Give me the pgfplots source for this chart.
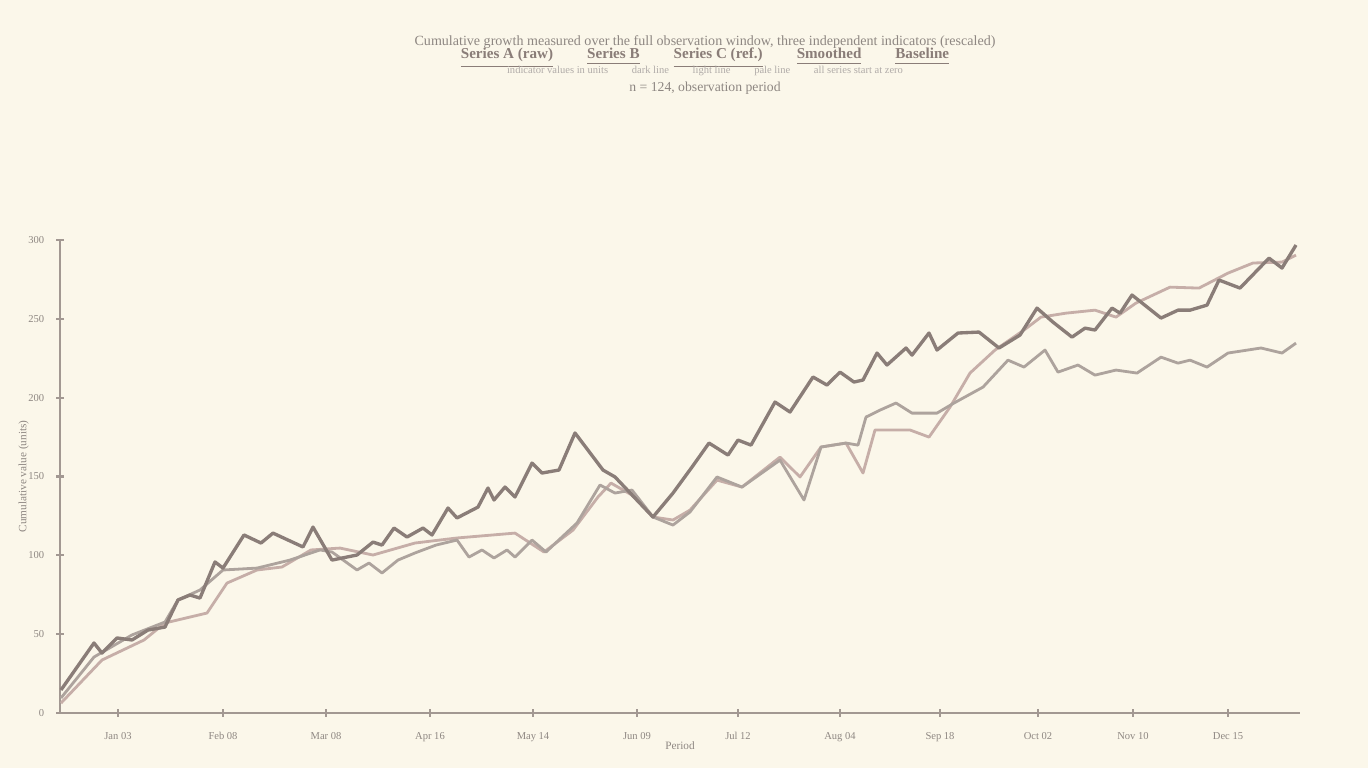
\documentclass[border=0pt]{standalone}
\usepackage{fontspec}
\setmainfont{Liberation Serif}
\usepackage{pgfplots}
\pgfplotsset{compat=1.18}

\definecolor{bg}{HTML}{FBF7EA}
\definecolor{axisgray}{HTML}{A29892}
\definecolor{textgray}{HTML}{8E8782}
\definecolor{darkline}{HTML}{8A7D78}
\definecolor{pinkline}{HTML}{C6AEA8}
\definecolor{grayline}{HTML}{ADA39D}

% series (x = period index, y = value)
\pgfplotstableread{
x y
0.1 14.6
3.4 44.4
4.2 38.0
5.7 47.6
7.2 46.3
8.8 52.6
10.5 54.5
11.8 71.7
13.0 74.8
14.0 72.9
15.5 95.8
16.3 91.9
18.4 112.9
20.1 107.8
21.3 114.1
24.3 105.3
25.3 117.9
27.2 97.0
29.7 100.2
31.3 108.4
32.2 106.5
33.4 117.3
34.7 111.6
36.3 117.3
37.2 112.9
38.8 130.0
39.7 123.7
41.8 130.6
42.8 142.7
43.4 135.1
44.5 143.3
45.5 137.0
47.2 158.5
48.2 152.2
49.9 154.1
51.5 177.6
54.3 154.1
55.5 149.7
59.3 124.3
61.3 139.5
63.2 156.0
64.9 171.2
66.8 163.6
67.8 173.1
69.1 169.9
71.5 197.2
73.0 190.9
75.3 213.1
76.7 208.0
78.0 216.2
79.4 209.9
80.3 211.2
81.7 228.3
82.7 220.7
84.6 231.5
85.2 227.0
86.9 241.0
87.7 230.2
89.8 241.0
91.9 241.6
93.9 231.5
96.0 239.7
97.7 256.8
99.3 247.9
101.2 238.4
102.5 244.1
103.5 242.9
105.2 256.8
106.0 253.6
107.2 265.1
110.1 250.5
111.8 255.5
113.0 255.5
114.7 258.7
115.9 274.6
118.0 269.5
120.9 288.5
122.2 282.2
123.6 296.8
}\seriesA

\pgfplotstableread{
x y
0.1 6.3
4.2 33.6
8.4 46.3
10.5 57.1
14.7 63.4
16.7 82.4
19.7 90.7
22.2 92.6
25.1 103.4
28.0 104.6
31.3 100.2
35.5 107.8
39.7 111.0
45.5 114.1
48.4 102.1
51.3 116.0
53.8 137.0
55.1 145.8
57.2 138.2
59.3 124.3
61.3 122.4
63.0 128.7
65.7 147.7
68.2 143.3
72.0 162.3
74.0 149.7
76.1 168.7
78.6 171.2
80.3 152.2
81.5 179.5
85.0 179.5
86.9 175.0
89.0 194.0
91.0 215.6
93.5 230.2
96.4 242.9
98.1 251.1
100.6 253.6
103.5 255.5
105.6 251.1
107.6 260.0
111.0 270.1
113.9 269.5
116.8 279.0
119.3 285.4
122.2 286.0
123.6 290.4
}\seriesB

\pgfplotstableread{
x y
0.1 9.5
3.4 35.5
7.2 49.5
10.5 57.7
11.8 71.7
14.0 78.0
16.3 90.7
19.7 91.9
23.0 97.0
26.0 103.4
27.2 102.1
29.7 90.7
30.9 95.1
32.2 88.8
33.8 97.0
35.5 101.5
37.6 106.5
39.7 109.7
40.9 98.9
42.2 103.4
43.4 98.3
44.7 103.4
45.5 98.9
47.2 109.7
48.6 102.1
51.7 120.5
54.0 144.6
55.5 139.5
57.2 141.4
59.3 124.3
61.3 119.2
63.0 127.5
65.7 149.7
68.2 143.3
72.0 160.4
74.4 135.1
76.1 168.7
78.6 171.2
79.8 169.9
80.6 187.7
82.0 192.1
83.6 196.6
85.2 190.2
87.7 190.2
89.4 196.6
92.3 206.7
94.8 223.8
96.4 219.4
98.5 230.2
99.8 216.2
101.8 220.7
103.5 214.3
105.6 217.5
107.7 215.6
110.1 225.7
111.8 221.9
113.0 223.8
114.7 219.4
116.8 228.3
120.1 231.5
122.2 228.3
123.6 234.6
}\seriesC

\begin{document}
\begin{tikzpicture}[x=1cm,y=1cm]
\fill[bg] (0,0) rectangle (13.68,7.68);
\useasboundingbox (0,0) rectangle (13.68,7.68);

% title block
\node[font=\fontsize{4}{4.5}\selectfont, text=textgray] at (7.05,7.26)
  {Cumulative growth measured over the full observation window, three independent indicators (rescaled)};
\node[font=\fontsize{4.3}{5}\selectfont\bfseries, text=darkline] at (7.05,7.10)
  {\underline{Series A (raw)} \qquad \underline{Series B} \qquad \underline{Series C (ref.)} \qquad \underline{Smoothed} \qquad \underline{Baseline}};
\node[font=\fontsize{3}{3.5}\selectfont, text=textgray!70] at (7.05,6.97)
  {indicator values in units \qquad dark line \qquad light line \qquad pale line \qquad all series start at zero};
\node[font=\fontsize{3.9}{4.5}\selectfont, text=textgray] at (7.05,6.80)
  {n = 124, observation period};

\begin{axis}[
    at={(0.6cm,0.55cm)}, anchor=south west,
    scale only axis,
    width=12.4cm, height=4.73cm,
    xmin=0, xmax=124, ymin=0, ymax=300,
    axis lines=left,
    axis line style={axisgray, line width=0.6pt, -},
    every tick/.style={axisgray, line width=0.6pt},
    tick align=center, major tick length=2pt,
    xtick={5.8,16.3,26.6,37,47.3,57.7,67.8,78,88,97.8,107.3,116.8},
    xticklabels={Jan 03,Feb 08,Mar 08,Apr 16,May 14,Jun 09,Jul 12,Aug 04,Sep 18,Oct 02,Nov 10,Dec 15},
    ytick={0,50,100,150,200,250,300},
    tick label style={font=\fontsize{3}{3.5}\selectfont, text=textgray},
    xticklabel style={yshift=-1pt},
    xlabel={Period},
    ylabel={Cumulative value (units)},
    label style={font=\fontsize{3.2}{3.6}\selectfont, text=textgray},
    xlabel style={yshift=7pt},
    ylabel style={yshift=-7pt},
    /pgf/number format/assume math mode=true,
    clip=false,
]
\addplot[pinkline, line width=0.8pt, line join=round] table {\seriesB};
\addplot[grayline, line width=0.8pt, line join=round] table {\seriesC};
\addplot[darkline, line width=0.95pt, line join=round] table {\seriesA};
\end{axis}
\end{tikzpicture}
\end{document}
